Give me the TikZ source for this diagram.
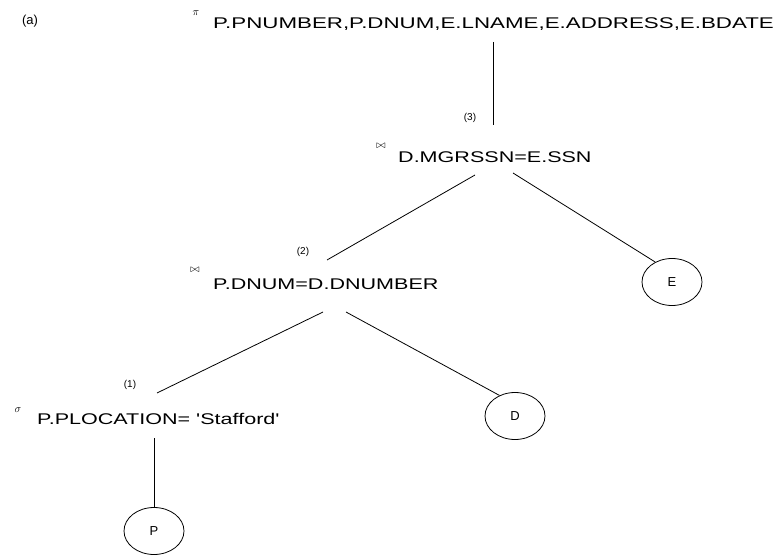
\documentclass[tikz,border=0pt]{standalone}
\usepackage{fontspec}
\setmainfont{Liberation Sans}
\newfontfamily\widefont[FakeStretch=1.39]{Liberation Sans}
\newfontfamily\widerfont[FakeStretch=1.44]{Liberation Sans}
\usetikzlibrary{shapes.geometric}
\begin{document}
\begin{tikzpicture}[x=1pt,y=-1pt,
  rel/.style={font=\widefont\fontsize{15.5}{18}\selectfont, inner sep=0pt, anchor=base west},
  lab/.style={font=\fontsize{10}{12}\selectfont, inner sep=0pt},
  sym/.style={font=\fontsize{11}{12}\selectfont, inner sep=0pt},
  leaf/.style={draw, ellipse, line width=0.8pt, minimum width=60pt, minimum height=47pt, inner sep=0pt, font=\fontsize{13}{15}\selectfont},
  edge/.style={line width=0.8pt}]
\useasboundingbox (0,0) rectangle (774,556);
\node[lab, font=\fontsize{13}{15}\selectfont] (a) at (30,21) {(a)};
\node[sym] (pi) at (196,13) {$\pi$};
\node[rel, font=\widerfont\fontsize{15.5}{18}\selectfont] (proj) at (213,29) {P.PNUMBER,P.DNUM,E.LNAME,E.ADDRESS,E.BDATE};
\node[lab] (n3) at (470,118) {(3)};
\node[sym] (bt1) at (381,146) {$\bowtie$};
\node[rel] (j1) at (398,163) {D.MGRSSN=E.SSN};
\node[lab] (n2) at (303,252) {(2)};
\node[sym] (bt2) at (195,270) {$\bowtie$};
\node[rel] (j2) at (213,290) {P.DNUM=D.DNUMBER};
\node[lab] (n1) at (130,385) {(1)};
\node[sym] (sg) at (18,410) {$\sigma$};
\node[rel] (sel) at (37,424) {P.PLOCATION= 'Stafford'};
\node[leaf] (E) at (672,282) {E};
\node[leaf] (D) at (515,416) {D};
\node[leaf] (P) at (154,531) {P};
\coordinate (projb) at (493,42);
\coordinate (j1t) at (493,125);
\coordinate (j1l) at (475,175);
\coordinate (j2t) at (327,260);
\coordinate (j1r) at (513,173);
\coordinate (j2l) at (323,312);
\coordinate (selt) at (157,393);
\coordinate (j2r) at (346,312);
\coordinate (selb) at (154,438);
\draw[edge] (projb) -- (j1t);
\draw[edge] (j1l) -- (j2t);
\draw[edge] (j1r) -- (E.130);
\draw[edge] (j2l) -- (selt);
\draw[edge] (j2r) -- (D.127);
\draw[edge] (selb) -- (P.north);
\end{tikzpicture}
\end{document}
